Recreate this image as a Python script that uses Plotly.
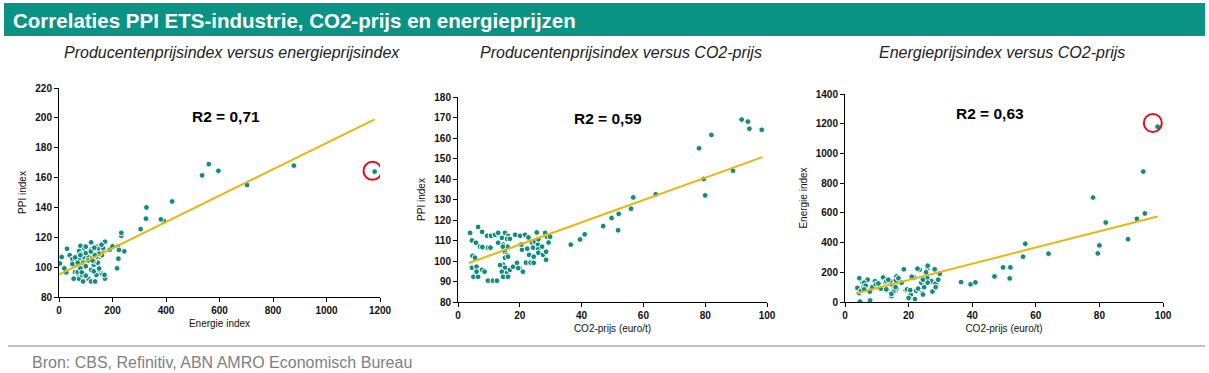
import plotly.graph_objects as go

# ---------------- data ----------------
co2_prijs = [
    3.9, 4.5, 4.7, 5.5, 6.5, 7.8, 5.8, 7.1, 8.4, 9.7, 9.4, 10.7, 12.0, 4.5, 6.0, 7.8, 8.6, 5.0, 6.5, 6.0,
    7.9, 9.7, 11.3, 12.6, 13.0, 15.2, 16.2, 14.2, 15.9, 16.8, 13.0, 14.6, 16.0, 14.5, 15.2, 15.9, 15.2, 16.2,
    14.6, 15.2, 14.2, 15.9, 14.6, 16.2, 16.8, 17.8, 19.1, 10.5, 13.6, 18.5, 20.1, 21.7, 20.7, 20.0, 22.4,
    24.0, 24.9, 25.9, 24.3, 25.9, 27.2, 28.2, 28.8, 29.8, 23.0, 24.5, 26.0, 27.5, 28.5, 22.0, 23.5, 24.5,
    26.0, 28.5, 19.5, 21.0, 22.8, 25.5, 29.3, 20.5,
    36.5, 39.5, 41.0, 47.0, 49.7, 51.8, 52.0, 56.0, 56.7, 64.0, 78.0, 79.5, 80.0, 82.0, 89.0, 91.8, 93.8,
    94.3, 98.3,
]
ppi_index = [
    113.7, 110.0, 102.5, 101.6, 116.6, 114.2, 108.9, 107.0, 106.5, 106.5, 112.3, 112.3, 112.8, 96.7, 97.2,
    95.7, 94.8, 92.3, 92.3, 94.8, 106.8, 90.4, 90.4, 90.4, 113.7, 113.7, 112.3, 111.3, 110.8, 110.8, 108.9,
    108.0, 107.0, 107.0, 104.5, 103.0, 101.6, 102.1, 98.2, 96.7, 94.8, 94.3, 92.3, 92.3, 95.7, 97.2, 99.1,
    106.5, 98.0, 112.8, 112.3, 112.8, 105.5, 96.5, 106.0, 108.9, 109.4, 108.0, 106.5, 105.7, 107.0, 113.7,
    111.8, 111.8, 103.0, 102.1, 104.0, 103.0, 104.5, 99.2, 99.2, 99.1, 110.6, 100.6, 96.5, 94.8, 111.5,
    113.9, 109.0, 108.0,
    108.0, 110.5, 113.0, 117.0, 121.0, 115.0, 123.0, 125.5, 131.0, 132.5, 155.0, 140.0, 132.0, 161.5, 144.0,
    169.0, 168.0, 164.5, 164.0,
]
energie_index = [
    95, 160, 3, 130, 120, 80, 100, 150, 90, 110, 140, 95, 165, 60, 130, 70, 100, 75, 110, 85,
    10, 120, 90, 135, 140, 100, 150, 120, 75, 165, 85, 40, 130, 65, 110, 145, 60, 90,
    120, 70, 140, 100, 55, 172, 160, 130, 80, 125, 150, 220, 30, 165, 50, 27, 75,
    130, 100, 160, 60, 222, 140, 220, 120, 190, 90, 50, 130, 70, 125, 20, 217, 150,
    244, 100, 85, 170, 224, 200, 150, 80,
    134, 119, 132, 172, 233, 159, 233, 305, 392, 325, 703, 327, 381, 535, 423, 560, 878,
    596, 1180,
]

# trend lines (end points)
trend1_x = [0, 1180]
trend1_y = [95, 199]
trend2_x = [3.5, 98.5]
trend2_y = [99, 150.7]
trend3_x = [3.5, 98.3]
trend3_y = [58, 576]

r2_labels = ["R2 = 0,71", "R2 = 0,59", "R2 = 0,63"]
subtitles = ["Producentenprijsindex versus energieprijsindex",
             "Producentenprijsindex versus CO2-prijs",
             "Energieprijsindex versus CO2-prijs"]
title = "Correlaties PPI ETS-industrie, CO2-prijs en energieprijzen"
source = "Bron: CBS, Refinitiv, ABN AMRO Economisch Bureau"

# ---------------- styling ----------------
W, H = 1209, 373
TEAL_HEAD = "#0a9384"
TEAL_DOT = "#168a7c"
GOLD = "#e8b512"
RED = "#e0101a"
FONT = "Liberation Sans"

def px_x(p):
    return p / W

def px_y(p):
    return 1 - p / H

fig = go.Figure()

# outlier index (largest energy value)
imax = max(range(len(energie_index)), key=lambda i: energie_index[i])

panels = [
    dict(x=energie_index, y=ppi_index, tx=trend1_x, ty=trend1_y, xa="x", ya="y"),
    dict(x=co2_prijs, y=ppi_index, tx=trend2_x, ty=trend2_y, xa="x2", ya="y2"),
    dict(x=co2_prijs, y=energie_index, tx=trend3_x, ty=trend3_y, xa="x3", ya="y3"),
]

for i, p in enumerate(panels):
    fig.add_trace(go.Scatter(
        x=p["x"], y=p["y"], mode="markers", xaxis=p["xa"], yaxis=p["ya"],
        marker=dict(size=5.8, color=TEAL_DOT, line=dict(color="white", width=1)),
        showlegend=False, hoverinfo="skip"))
    fig.add_trace(go.Scatter(
        x=p["tx"], y=p["ty"], mode="lines", xaxis=p["xa"], yaxis=p["ya"],
        line=dict(color=GOLD, width=2), showlegend=False, hoverinfo="skip"))

# red circles around the outlier (panels 1 and 3)
fig.add_trace(go.Scatter(
    x=[energie_index[imax] - 8], y=[ppi_index[imax] + 0.5], mode="markers", xaxis="x", yaxis="y",
    marker=dict(symbol="circle-open", size=18, color=RED, line=dict(width=2, color=RED)),
    showlegend=False, hoverinfo="skip"))
fig.add_trace(go.Scatter(
    x=[co2_prijs[imax] - 1.5], y=[energie_index[imax] + 25], mode="markers", xaxis="x3", yaxis="y3",
    marker=dict(symbol="circle-open", size=18, color=RED, line=dict(width=2, color=RED)),
    showlegend=False, hoverinfo="skip"))

tickfont = dict(family=FONT, size=10, color="#111111", weight="bold")
titlefont = dict(family=FONT, size=10, color="#111111")

def xaxis(dom, rng, dtick, title_text, anchor):
    return dict(domain=dom, range=rng, dtick=dtick, tick0=0, showgrid=False, zeroline=False,
                showline=True, linecolor="black", linewidth=1, ticks="outside", ticklen=4,
                tickcolor="black", tickfont=tickfont, fixedrange=True, anchor=anchor,
                automargin=False,
                title=dict(text=title_text, font=titlefont, standoff=4))

def yaxis(dom, rng, dtick, title_text, anchor):
    return dict(domain=dom, range=rng, dtick=dtick, tick0=0, showgrid=False, zeroline=False,
                showline=True, linecolor="black", linewidth=1, ticks="outside", ticklen=4,
                tickcolor="black", tickfont=tickfont, fixedrange=True, anchor=anchor,
                automargin=False,
                title=dict(text=title_text, font=titlefont, standoff=6))

fig.update_layout(
    width=W, height=H, margin=dict(l=0, r=0, t=0, b=0, autoexpand=False),
    paper_bgcolor="white", plot_bgcolor="white",
    xaxis=xaxis([px_x(59), px_x(380)], [0, 1200], 200, "Energie index", "y"),
    yaxis=yaxis([px_y(297), px_y(88)], [80, 220], 20, "PPI index", "x"),
    xaxis2=xaxis([px_x(458), px_x(767)], [0, 100], 20, "CO2-prijs (euro/t)", "y2"),
    yaxis2=yaxis([px_y(302), px_y(97)], [80, 180], 10, "PPI index", "x2"),
    xaxis3=xaxis([px_x(845), px_x(1163)], [0, 100], 20, "CO2-prijs (euro/t)", "y3"),
    yaxis3=yaxis([px_y(302), px_y(94)], [0, 1400], 200, "Energie index", "x3"),
)

# header bar, separator line
fig.add_shape(type="rect", xref="paper", yref="paper", x0=px_x(4), x1=px_x(1205),
              y0=px_y(36), y1=px_y(3), fillcolor=TEAL_HEAD, line=dict(width=0), layer="below")
fig.add_shape(type="line", xref="paper", yref="paper", x0=px_x(8), x1=px_x(1205),
              y0=px_y(346), y1=px_y(346), line=dict(color="#c0c0c0", width=2))

fig.add_annotation(text=title, xref="paper", yref="paper", x=px_x(11), y=px_y(20),
                   xanchor="left", yanchor="middle", showarrow=False,
                   font=dict(family=FONT, size=20.5, color="white", weight="bold"))

for cx, txt in zip([232, 621, 1002], subtitles):
    fig.add_annotation(text=txt, xref="paper", yref="paper", x=px_x(cx), y=px_y(53),
                       xanchor="center", yanchor="middle", showarrow=False,
                       font=dict(family=FONT, size=16, color="#222222", style="italic"))

r2_pos = [("x", "y", 626, 201), ("x2", "y2", 48.5, 169.5), ("x3", "y3", 45.5, 1270)]
for (xr, yr, xv, yv), txt in zip(r2_pos, r2_labels):
    fig.add_annotation(text=txt, xref=xr, yref=yr, x=xv, y=yv, showarrow=False,
                       xanchor="center", yanchor="middle",
                       font=dict(family=FONT, size=15.5, color="black", weight="bold"))

fig.add_annotation(text=source, xref="paper", yref="paper", x=px_x(30), y=px_y(362),
                   xanchor="left", yanchor="middle", showarrow=False,
                   font=dict(family=FONT, size=16, color="#808080"))

fig.write_html("out.html", config={"displayModeBar": False},
               post_script="document.body.style.margin='0';document.body.style.overflow='hidden';")
